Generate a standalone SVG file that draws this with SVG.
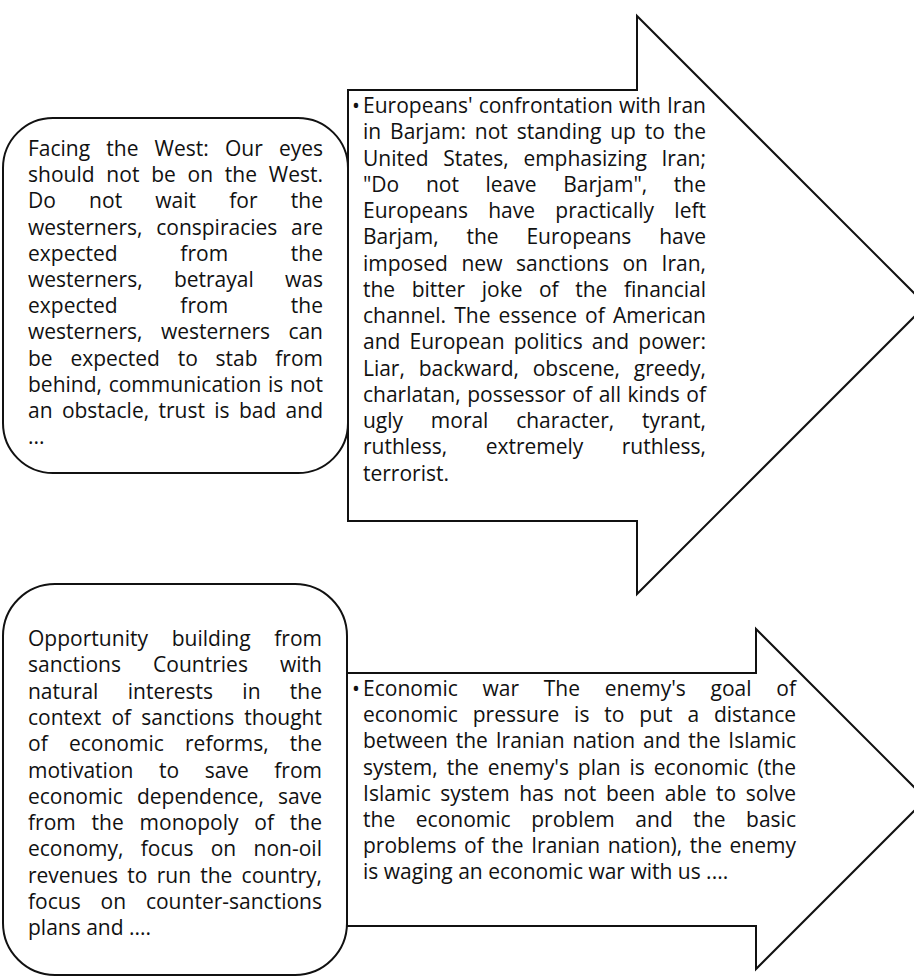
<svg xmlns="http://www.w3.org/2000/svg" width="914" height="978" viewBox="0 0 914 978">
<style>
.shape{fill:#fff;stroke:#111;stroke-width:2;stroke-linejoin:miter}
.t{font-family:"Open Sans","Liberation Sans",sans-serif;font-size:21px;fill:#111}
</style>
<rect width="914" height="978" fill="#fff"/>
<g id="connectors"></g>
<g id="node-west">
<rect class="shape" x="3" y="118" width="345" height="355" rx="50" ry="50"/>
<text class="t" x="28" y="156" textLength="295" lengthAdjust="spacing" word-spacing="10.7">Facing the West: Our eyes</text>
<text class="t" x="28" y="182.2" textLength="295" lengthAdjust="spacing" word-spacing="6.3">should not be on the West.</text>
<text class="t" x="28" y="208.4" textLength="295" lengthAdjust="spacing" word-spacing="27.7">Do not wait for the</text>
<text class="t" x="28" y="234.6" textLength="295" lengthAdjust="spacing" word-spacing="8.3">westerners, conspiracies are</text>
<text class="t" x="28" y="260.8" textLength="295" lengthAdjust="spacing" word-spacing="57.3">expected from the</text>
<text class="t" x="28" y="287" textLength="295" lengthAdjust="spacing" word-spacing="25.9">westerners, betrayal was</text>
<text class="t" x="28" y="313.2" textLength="295" lengthAdjust="spacing" word-spacing="57.3">expected from the</text>
<text class="t" x="28" y="339.4" textLength="295" lengthAdjust="spacing" word-spacing="13">westerners, westerners can</text>
<text class="t" x="28" y="365.6" textLength="295" lengthAdjust="spacing" word-spacing="12.3">be expected to stab from</text>
<text class="t" x="28" y="391.8" textLength="295" lengthAdjust="spacing" word-spacing="1.2">behind, communication is not</text>
<text class="t" x="28" y="418" textLength="295" lengthAdjust="spacing" word-spacing="3.9">an obstacle, trust is bad and</text>
<text class="t" x="28" y="444.2">...</text>
</g>
<g id="node-europeans">
<polygon class="shape" points="348,90 637,90 637,16 926,305 637,594 637,521 348,521"/>
<text class="t" x="352" y="113">•</text>
<text class="t" x="363" y="113" textLength="343" lengthAdjust="spacing" word-spacing="0.6">Europeans' confrontation with Iran</text>
<text class="t" x="363" y="139.25" textLength="343" lengthAdjust="spacing" word-spacing="3.4">in Barjam: not standing up to the</text>
<text class="t" x="363" y="165.5" textLength="343" lengthAdjust="spacing" word-spacing="9.2">United States, emphasizing Iran;</text>
<text class="t" x="363" y="191.75" textLength="343" lengthAdjust="spacing" word-spacing="21.2">"Do not leave Barjam", the</text>
<text class="t" x="363" y="218" textLength="343" lengthAdjust="spacing" word-spacing="14.8">Europeans have practically left</text>
<text class="t" x="363" y="244.25" textLength="343" lengthAdjust="spacing" word-spacing="22.4">Barjam, the Europeans have</text>
<text class="t" x="363" y="270.5" textLength="343" lengthAdjust="spacing" word-spacing="8.1">imposed new sanctions on Iran,</text>
<text class="t" x="363" y="296.75" textLength="343" lengthAdjust="spacing" word-spacing="11.1">the bitter joke of the financial</text>
<text class="t" x="363" y="323" textLength="343" lengthAdjust="spacing" word-spacing="2.7">channel. The essence of American</text>
<text class="t" x="363" y="349.25" textLength="343" lengthAdjust="spacing" word-spacing="3.6">and European politics and power:</text>
<text class="t" x="363" y="375.5" textLength="343" lengthAdjust="spacing" word-spacing="8.4">Liar, backward, obscene, greedy,</text>
<text class="t" x="363" y="401.75" textLength="343" lengthAdjust="spacing" word-spacing="1.2">charlatan, possessor of all kinds of</text>
<text class="t" x="363" y="428" textLength="343" lengthAdjust="spacing" word-spacing="22.4">ugly moral character, tyrant,</text>
<text class="t" x="363" y="454.25" textLength="343" lengthAdjust="spacing" word-spacing="33.1">ruthless, extremely ruthless,</text>
<text class="t" x="363" y="480.5">terrorist.</text>
</g>
<g id="node-sanctions">
<rect class="shape" x="3" y="584" width="344" height="391" rx="52" ry="52"/>
<text class="t" x="28" y="646" textLength="294" lengthAdjust="spacing" word-spacing="18.2">Opportunity building from</text>
<text class="t" x="28" y="672.3" textLength="294" lengthAdjust="spacing" word-spacing="26.7">sanctions Countries with</text>
<text class="t" x="28" y="698.6" textLength="294" lengthAdjust="spacing" word-spacing="23.9">natural interests in the</text>
<text class="t" x="28" y="724.9" textLength="294" lengthAdjust="spacing" word-spacing="4.7">context of sanctions thought</text>
<text class="t" x="28" y="751.2" textLength="294" lengthAdjust="spacing" word-spacing="15.8">of economic reforms, the</text>
<text class="t" x="28" y="777.5" textLength="294" lengthAdjust="spacing" word-spacing="20.1">motivation to save from</text>
<text class="t" x="28" y="803.8" textLength="294" lengthAdjust="spacing" word-spacing="8.8">economic dependence, save</text>
<text class="t" x="28" y="830.1" textLength="294" lengthAdjust="spacing" word-spacing="10.3">from the monopoly of the</text>
<text class="t" x="28" y="856.4" textLength="294" lengthAdjust="spacing" word-spacing="11.8">economy, focus on non-oil</text>
<text class="t" x="28" y="882.7" textLength="294" lengthAdjust="spacing" word-spacing="3.8">revenues to run the country,</text>
<text class="t" x="28" y="909" textLength="294" lengthAdjust="spacing" word-spacing="14.4">focus on counter-sanctions</text>
<text class="t" x="28" y="935.3">plans and ....</text>
</g>
<g id="node-economic-war">
<polygon class="shape" points="347,673 756,673 756,629 926,799 756,969 756,926 347,926"/>
<text class="t" x="352" y="696">•</text>
<text class="t" x="363" y="696" textLength="433" lengthAdjust="spacing" word-spacing="19.2">Economic war The enemy's goal of</text>
<text class="t" x="363" y="722.2" textLength="433" lengthAdjust="spacing" word-spacing="9.4">economic pressure is to put a distance</text>
<text class="t" x="363" y="748.4" textLength="433" lengthAdjust="spacing" word-spacing="2.4">between the Iranian nation and the Islamic</text>
<text class="t" x="363" y="774.6" textLength="433" lengthAdjust="spacing" word-spacing="3.5">system, the enemy's plan is economic (the</text>
<text class="t" x="363" y="800.8" textLength="433" lengthAdjust="spacing" word-spacing="4.1">Islamic system has not been able to solve</text>
<text class="t" x="363" y="827" textLength="433" lengthAdjust="spacing" word-spacing="15.1">the economic problem and the basic</text>
<text class="t" x="363" y="853.2" textLength="433" lengthAdjust="spacing" word-spacing="2.2">problems of the Iranian nation), the enemy</text>
<text class="t" x="363" y="879.4">is waging an economic war with us ....</text>
</g>
</svg>
